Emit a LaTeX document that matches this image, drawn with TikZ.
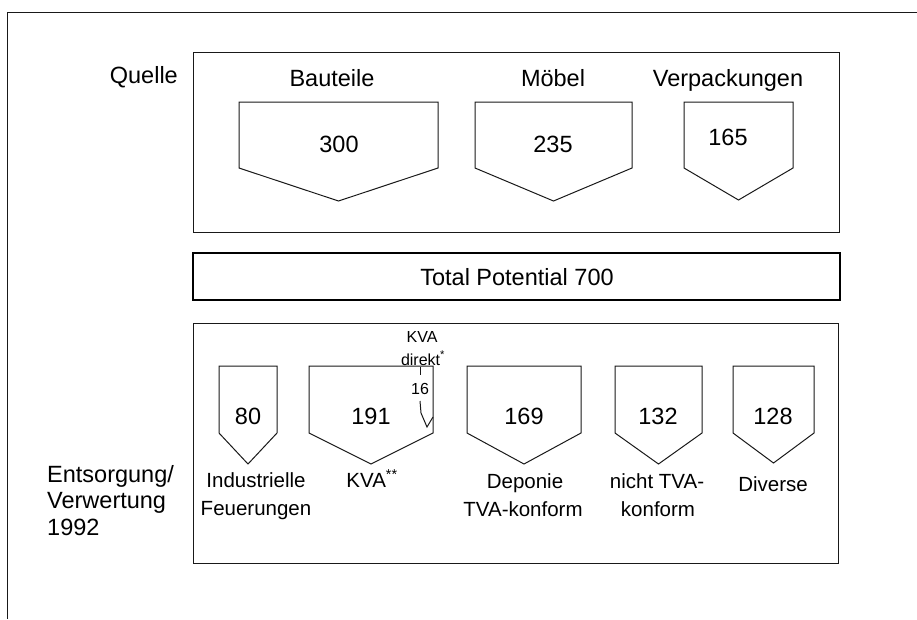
\documentclass[tikz,border=0pt]{standalone}
\usepackage{fontspec}
\setmainfont{Liberation Sans}
\newcommand\txBig{\fontsize{23.5}{26.5}\selectfont}
\newcommand\txMid{\fontsize{20.5}{26}\selectfont}
\newcommand\txSmall{\fontsize{16}{18}\selectfont}
\newcommand\pentshape[5]{\draw[pent] (#1,#3) -- (#2,#3) -- (#2,#4) -- ({(#1+#2)/2},#5) -- (#1,#4) -- cycle;}
\begin{document}
\begin{tikzpicture}[x=1pt,y=-1pt,
  frame/.style={draw=black!90, line width=1pt},
  heavybox/.style={draw=black, line width=2.8pt},
  pent/.style={draw=black!90, line width=1pt, line join=miter},
  lab/.style={inner sep=0pt, anchor=base, font=\txBig},
  sublab/.style={inner sep=0pt, anchor=base, font=\txMid},
  tiny/.style={inner sep=0pt, anchor=base, font=\txSmall}]
\useasboundingbox (0,0) rectangle (917,619);
% outer partial frame
\draw[frame] (917,12) -- (7,12) -- (7,619);
% Quelle
\draw[frame] (193,52) rectangle (839,232);
\node[lab, anchor=base east] (quelle) at (178,83) {Quelle};
\node[lab] (bauteile) at (332,86) {Bauteile};
\node[lab] (moebel) at (553,86) {Möbel};
\node[lab] (verpack) at (728,86) {Verpackungen};
\pentshape{239}{438}{102}{168}{201}
\pentshape{475}{632}{102}{168}{201}
\pentshape{684}{793}{102}{168}{200}
\node[lab] (n300) at (339,152) {300};
\node[lab] (n235) at (553,152) {235};
\node[lab] (n165) at (728,145) {165};
% Total
\draw[heavybox] (193,253) rectangle (840,300);
\node[lab] (total) at (517,285) {Total Potential 700};
% lower box
\draw[frame] (193,323) rectangle (838,563);
\node[lab, anchor=base west] (ents) at (47,482) {Entsorgung/};
\node[lab, anchor=base west] (verw) at (47,508.5) {Verwertung};
\node[lab, anchor=base west] (year) at (47,535) {1992};
\pentshape{219}{277}{366}{433}{464}
\pentshape{309}{433}{366}{433}{464}
\pentshape{467}{581}{366}{433}{464}
\pentshape{615}{702}{366}{433}{464}
\pentshape{733}{814}{366}{433}{463}
\node[lab] (n80) at (248,424) {80};
\node[lab] (n191) at (371,424) {191};
\node[lab] (n169) at (524,424) {169};
\node[lab] (n132) at (658,424) {132};
\node[lab] (n128) at (773,424) {128};
% KVA direkt sub-arrow
\node[tiny] (kvad1) at (422,342) {KVA};
\node[tiny] (kvad2) at (423,365) {direkt\textsuperscript{*}};
\node[tiny] (n16) at (420,394) {16};
\draw[pent] (420,367) -- (420,375);
\draw[pent] (420,401) -- (421,413) -- (427,427) -- (433,417);
% lower labels
\node[sublab] (ind1) at (256,487) {Industrielle};
\node[sublab] (ind2) at (256,515) {Feuerungen};
\node[sublab] (kva) at (372,487) {KVA\textsuperscript{**}};
\node[sublab] (dep1) at (525,488) {Deponie};
\node[sublab] (dep2) at (523,516) {TVA-konform};
\node[sublab] (ntva1) at (657,488) {nicht TVA-};
\node[sublab] (ntva2) at (658,516) {konform};
\node[sublab] (div) at (773,491) {Diverse};
\end{tikzpicture}
\end{document}
